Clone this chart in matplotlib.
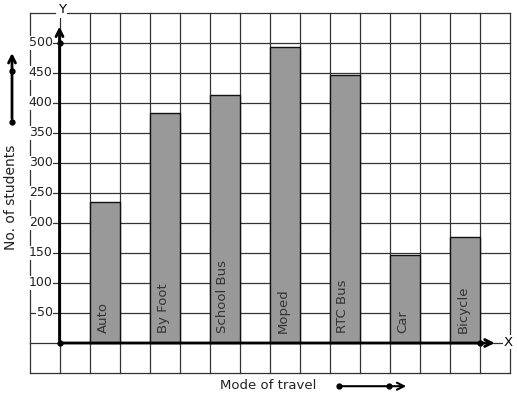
import matplotlib
matplotlib.use("Agg")
import matplotlib.pyplot as plt

categories = ["Auto", "By Foot", "School Bus", "Moped", "RTC Bus", "Car", "Bicycle"]
values = [235, 383, 413, 493, 446, 147, 177]
ytick_values = [50, 100, 150, 200, 250, 300, 350, 400, 450, 500]
ytick_labels = ["50", "100", "150", "200", "250", "300", "350", "400", "450", "500"]
x_label = "Mode of travel"
y_label = "No. of students"

W, H = 517, 399
fig = plt.figure(figsize=(W / 100, H / 100), dpi=100)
ax = fig.add_axes([29.5 / W, (H - 373) / H, 480 / W, 360 / H])
ax.set_xlim(-1, 15)
ax.set_ylim(-50, 550)
ax.axis("off")

gc = "#333333"
for gx in range(-1, 16):
    ax.plot([gx, gx], [-50, 550], color=gc, lw=0.9, zorder=1, clip_on=False)
for gy in range(-50, 551, 50):
    ax.plot([-1, 15], [gy, gy], color=gc, lw=0.9, zorder=1, clip_on=False)

# bars
positions = [1 + 2 * i for i in range(len(categories))]
ax.bar(positions, values, width=1, align="edge", color="#999999",
       edgecolor="#111111", linewidth=1.0, zorder=3)
for p, c in zip(positions, categories):
    ax.text(p + 0.45, 17, c, rotation=90, ha="center", va="bottom",
            fontsize=9.5, color="#333333", zorder=4)

# y tick labels
for v, lab in zip(ytick_values, ytick_labels):
    ax.text(-0.23, v, lab, ha="right", va="center", fontsize=9, color="#222222",
            zorder=2, bbox=dict(boxstyle="square,pad=0.05", fc="white", ec="none"))

# axes with arrows
lw = 2.0
ax.annotate("", xy=(0, 532), xytext=(0, 0),
            arrowprops=dict(arrowstyle="->,head_length=0.5,head_width=0.25",
                            color="black", lw=lw), zorder=5, annotation_clip=False)
ax.annotate("", xy=(14.6, 0), xytext=(0, 0),
            arrowprops=dict(arrowstyle="->,head_length=0.5,head_width=0.25",
                            color="black", lw=lw), zorder=5, annotation_clip=False)
ax.plot([0, 0, 14], [0, 500, 0], "o", color="black", ms=3.5, zorder=6, clip_on=False)
ax.text(0.07, 555, "Y", ha="center", va="center", fontsize=9.5, zorder=6,
        bbox=dict(boxstyle="square,pad=0.1", fc="white", ec="none"), clip_on=False)
ax.text(14.95, 1.5, "X", ha="center", va="center", fontsize=9.5, zorder=6,
        bbox=dict(boxstyle="square,pad=0.05", fc="white", ec="none"), clip_on=False)

# y label with arrow
ax.text(-1.6, 243, y_label, rotation=90, ha="center", va="center", fontsize=10,
        color="#222222", clip_on=False)
ax.annotate("", xy=(-1.583, 488), xytext=(-1.583, 369),
            arrowprops=dict(arrowstyle="->,head_length=0.5,head_width=0.25",
                            color="black", lw=lw), annotation_clip=False)
ax.plot([-1.583, -1.583], [369, 453], "o", color="black", ms=3.5, clip_on=False)

# x label with arrow
ax.text(6.95, -71.5, x_label, ha="center", va="center", fontsize=9.5,
        color="#222222", clip_on=False)
ax.annotate("", xy=(11.65, -72), xytext=(9.32, -72),
            arrowprops=dict(arrowstyle="->,head_length=0.5,head_width=0.25",
                            color="black", lw=1.5), annotation_clip=False)
ax.plot([9.32, 10.98], [-72, -72], "o", color="black", ms=3.5, clip_on=False)

fig.savefig("out.png", dpi=100, facecolor="white")
